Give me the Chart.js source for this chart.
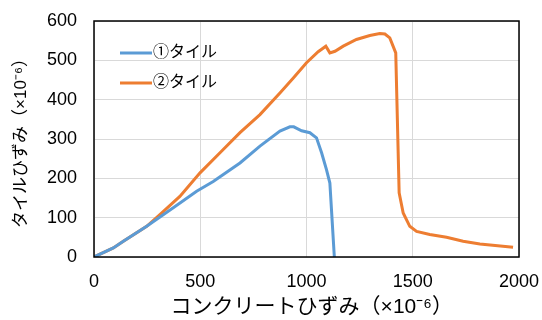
<!DOCTYPE html>
<html>
<head>
<meta charset="utf-8">
<script src="https://cdn.jsdelivr.net/npm/chart.js@4"></script>
<style>
  html, body { margin: 0; padding: 0; background: #fff; }
  #wrap { width: 542px; height: 320px; }
</style>
</head>
<body>
<div id="wrap"><canvas id="chart"></canvas></div>
<script>
var seriesNames = ["①タイル", "②タイル"];

var tile1X = [0, 91, 138, 248, 373, 483, 561, 687, 781, 875, 922, 940, 977, 1016, 1047, 1071, 1094, 1110, 1131];
var tile1Y = [0, 23, 40, 78, 125, 167, 192, 239, 282, 320, 331, 331, 321, 316, 303, 265, 222, 188, 0];

var tile2X = [0, 91, 138, 248, 310, 404, 499, 593, 687, 781, 875, 938, 1000, 1055, 1091, 1110, 1134, 1173, 1235, 1298, 1345, 1369, 1392, 1420, 1436, 1455, 1486, 1518, 1580, 1659, 1737, 1816, 1972];
var tile2Y = [0, 23, 40, 78, 108, 154, 214, 265, 316, 362, 417, 455, 494, 522, 536, 519, 523, 536, 553, 563, 568, 567, 557, 519, 163, 112, 78, 65, 57, 50, 40, 33, 25];

var xTicks = [0, 500, 1000, 1500, 2000];
var yTicks = [0, 100, 200, 300, 400, 500, 600];

var FONT = "'Liberation Sans', 'Noto Sans CJK JP', sans-serif";

function pts(xs, ys) {
  var out = [];
  for (var i = 0; i < xs.length; i++) out.push({ x: xs[i], y: ys[i] });
  return out;
}

function plain(v) { return String(v); }

// legend inside the plot + full frame around the plot area
var framePlugin = {
  id: "frame",
  afterDatasetsDraw: function(chart) {
    var c = chart.ctx, a = chart.chartArea;
    c.save();
    c.strokeStyle = "#000";
    c.lineWidth = 1.5;
    c.strokeRect(a.left, a.top, a.right - a.left, a.bottom - a.top);

    c.font = "16px " + FONT;
    c.textBaseline = "middle";
    chart.data.datasets.forEach(function(ds, i) {
      var y = a.top + 32 + i * 30;
      c.strokeStyle = ds.borderColor;
      c.lineWidth = 3;
      c.beginPath();
      c.moveTo(a.left + 26, y);
      c.lineTo(a.left + 58, y);
      c.stroke();
      c.fillStyle = "#000";
      c.fillText(ds.label, a.left + 59, y);
    });
    c.restore();
  }
};

document.addEventListener("DOMContentLoaded", function() {
  var ctx = document.getElementById("chart").getContext("2d");

  new Chart(ctx, {
    type: "scatter",
    data: {
      datasets: [
        {
          label: seriesNames[0],
          data: pts(tile1X, tile1Y),
          showLine: true,
          borderColor: "#5B9BD5",
          backgroundColor: "#5B9BD5",
          borderWidth: 3,
          pointRadius: 0
        },
        {
          label: seriesNames[1],
          data: pts(tile2X, tile2Y),
          showLine: true,
          borderColor: "#ED7D31",
          backgroundColor: "#ED7D31",
          borderWidth: 3,
          pointRadius: 0
        }
      ]
    },
    options: {
      responsive: true,
      maintainAspectRatio: false,
      animation: false,
      layout: { padding: { left: 9, right: 23, top: 21, bottom: 0 } },
      plugins: {
        legend: { display: false },
        tooltip: { enabled: false }
      },
      scales: {
        x: {
          type: "linear",
          min: 0,
          max: 2000,
          afterBuildTicks: function(s) { s.ticks = xTicks.map(function(v) { return { value: v }; }); },
          afterFit: function(s) { s.height = 63; s.paddingLeft = 0; s.paddingRight = 0; },
          grid: { color: "#d9d9d9", lineWidth: 1, drawTicks: false },
          border: { display: false },
          ticks: { color: "#000", font: { size: 18, family: FONT }, padding: 14, maxRotation: 0, callback: plain },
          title: {
            display: true,
            text: "\u2002コンクリートひずみ（×10⁻⁶）",
            color: "#000",
            font: { size: 21, family: FONT },
            padding: { top: 0, bottom: 0 }
          }
        },
        y: {
          type: "linear",
          min: 0,
          max: 600,
          afterBuildTicks: function(s) { s.ticks = yTicks.map(function(v) { return { value: v }; }); },
          afterFit: function(s) { s.width = 85; s.paddingTop = 0; s.paddingBottom = 0; },
          grid: { color: "#d9d9d9", lineWidth: 1, drawTicks: false },
          border: { display: false },
          ticks: { color: "#000", font: { size: 18, family: FONT }, padding: 17, callback: plain },
          title: {
            display: true,
            text: "タイルひずみ（×10⁻⁶）",
            color: "#000",
            font: { size: 17, family: FONT },
            padding: { top: 2, bottom: 0 }
          }
        }
      }
    },
    plugins: [framePlugin]
  });
});
</script>
</body>
</html>
